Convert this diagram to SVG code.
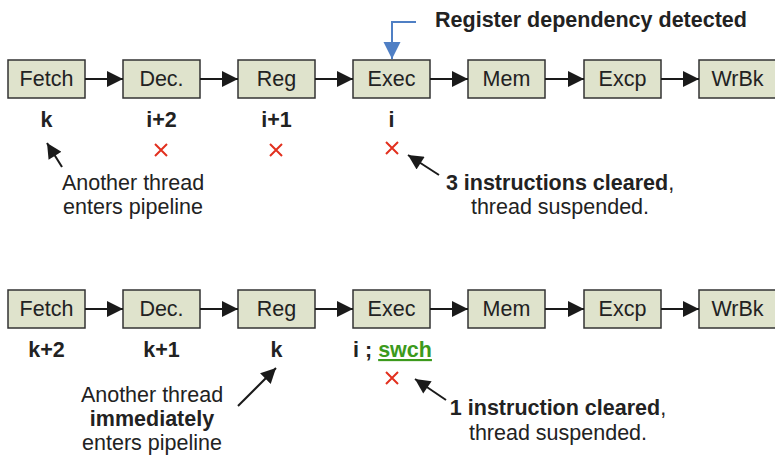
<svg xmlns="http://www.w3.org/2000/svg" width="775" height="455" viewBox="0 0 775 455">
  <defs>
    <marker id="ah" viewBox="0 0 10 10" refX="10" refY="5" markerWidth="18" markerHeight="16" markerUnits="userSpaceOnUse" orient="auto">
      <path d="M0,0 L10,5 L0,10 z" fill="#1a1a1a"/>
    </marker>
    <marker id="ahs" viewBox="0 0 10 10" refX="10" refY="5" markerWidth="16" markerHeight="15" markerUnits="userSpaceOnUse" orient="auto">
      <path d="M0,0 L10,5 L0,10 z" fill="#1a1a1a"/>
    </marker>
    <marker id="ahb" viewBox="0 0 10 10" refX="10" refY="5" markerWidth="17" markerHeight="19" markerUnits="userSpaceOnUse" orient="auto">
      <path d="M0,0 L10,5 L0,10 z" fill="#4f7fc4"/>
    </marker>
  </defs>
  <style>
    .box { fill: #dfe3cc; stroke: #333; stroke-width: 1.5; }
    .lbl { font-family: "Liberation Sans", Arial, sans-serif; font-size: 21.5px; fill: #222; text-anchor: middle; }
    .idx { font-family: "Liberation Sans", Arial, sans-serif; font-size: 21.5px; font-weight: bold; fill: #222; text-anchor: middle; }
    .note { font-family: "Liberation Sans", Arial, sans-serif; font-size: 21.5px; fill: #222; text-anchor: middle; }
    .b { font-weight: bold; }
    .flow { stroke: #1a1a1a; stroke-width: 2; fill: none; marker-end: url(#ah); }
    .ptr { stroke: #1a1a1a; stroke-width: 2; fill: none; marker-end: url(#ahs); }
    .x { stroke: #e2301e; stroke-width: 2; }
    .sw { fill: #3c9a1c; text-decoration: underline; }
  </style>

  <!-- Top pipeline -->
  <g id="top-fetch"><rect class="box" x="8" y="60" width="77" height="38"/><text class="lbl" x="46.5" y="86">Fetch</text></g>
  <g id="top-dec"><rect class="box" x="123" y="60" width="77" height="38"/><text class="lbl" x="161.5" y="86">Dec.</text></g>
  <g id="top-reg"><rect class="box" x="238" y="60" width="77" height="38"/><text class="lbl" x="276.5" y="86">Reg</text></g>
  <g id="top-exec"><rect class="box" x="353" y="60" width="77" height="38"/><text class="lbl" x="391.5" y="86">Exec</text></g>
  <g id="top-mem"><rect class="box" x="468" y="60" width="77" height="38"/><text class="lbl" x="506.5" y="86">Mem</text></g>
  <g id="top-excp"><rect class="box" x="584" y="60" width="77" height="38"/><text class="lbl" x="622.5" y="86">Excp</text></g>
  <g id="top-wrbk"><rect class="box" x="699" y="60" width="77" height="38"/><text class="lbl" x="737.5" y="86">WrBk</text></g>

  <!-- Bottom pipeline -->
  <g id="bot-fetch"><rect class="box" x="8" y="290" width="77" height="38"/><text class="lbl" x="46.5" y="316">Fetch</text></g>
  <g id="bot-dec"><rect class="box" x="123" y="290" width="77" height="38"/><text class="lbl" x="161.5" y="316">Dec.</text></g>
  <g id="bot-reg"><rect class="box" x="238" y="290" width="77" height="38"/><text class="lbl" x="276.5" y="316">Reg</text></g>
  <g id="bot-exec"><rect class="box" x="353" y="290" width="77" height="38"/><text class="lbl" x="391.5" y="316">Exec</text></g>
  <g id="bot-mem"><rect class="box" x="468" y="290" width="77" height="38"/><text class="lbl" x="506.5" y="316">Mem</text></g>
  <g id="bot-excp"><rect class="box" x="584" y="290" width="77" height="38"/><text class="lbl" x="622.5" y="316">Excp</text></g>
  <g id="bot-wrbk"><rect class="box" x="699" y="290" width="77" height="38"/><text class="lbl" x="737.5" y="316">WrBk</text></g>

  <!-- Connectors -->
  <g id="connectors">
    <line class="flow" x1="85" y1="79" x2="123" y2="79"/>
    <line class="flow" x1="200" y1="79" x2="238" y2="79"/>
    <line class="flow" x1="315" y1="79" x2="353" y2="79"/>
    <line class="flow" x1="430" y1="79" x2="468" y2="79"/>
    <line class="flow" x1="545" y1="79" x2="584" y2="79"/>
    <line class="flow" x1="661" y1="79" x2="699" y2="79"/>

    <line class="flow" x1="85" y1="309" x2="123" y2="309"/>
    <line class="flow" x1="200" y1="309" x2="238" y2="309"/>
    <line class="flow" x1="315" y1="309" x2="353" y2="309"/>
    <line class="flow" x1="430" y1="309" x2="468" y2="309"/>
    <line class="flow" x1="545" y1="309" x2="584" y2="309"/>
    <line class="flow" x1="661" y1="309" x2="699" y2="309"/>

    <!-- dependency signal into Exec -->
    <polyline points="416,22 392,22 392,59" fill="none" stroke="#4f7fc4" stroke-width="2" marker-end="url(#ahb)"/>

    <!-- annotation pointers -->
    <line class="ptr" x1="62" y1="167" x2="47" y2="143"/>
    <line class="ptr" x1="439" y1="175" x2="408" y2="155"/>
    <line class="ptr" x1="238" y1="406" x2="276" y2="368"/>
    <line class="ptr" x1="446" y1="400" x2="415" y2="379"/>
  </g>

  <!-- Top row instruction slots -->
  <g id="top-slots">
    <text class="idx" x="46.5" y="127">k</text>
    <text class="idx" x="161.5" y="127">i+2</text>
    <text class="idx" x="276.5" y="127">i+1</text>
    <text class="idx" x="391.5" y="127">i</text>
    <path class="x" d="M155,144 L167,156 M167,144 L155,156"/>
    <path class="x" d="M270,144 L282,156 M282,144 L270,156"/>
    <path class="x" d="M386,142 L398,154 M398,142 L386,154"/>
  </g>

  <text class="idx" x="591" y="27">Register dependency detected</text>

  <g id="top-notes">
    <text class="note" x="133" y="190">Another thread</text>
    <text class="note" x="133" y="214">enters pipeline</text>
    <text class="note" x="560" y="190"><tspan class="b">3 instructions cleared</tspan>,</text>
    <text class="note" x="560" y="214">thread suspended.</text>
  </g>

  <!-- Bottom row instruction slots -->
  <g id="bot-slots">
    <text class="idx" x="46.5" y="357">k+2</text>
    <text class="idx" x="161.5" y="357">k+1</text>
    <text class="idx" x="276.5" y="357">k</text>
    <text class="idx" x="392.5" y="357">i ; <tspan class="sw">swch</tspan></text>
    <path class="x" d="M386,372 L398,384 M398,372 L386,384"/>
  </g>

  <g id="bot-notes">
    <text class="note" x="152" y="402">Another thread</text>
    <text class="note b" x="152" y="426">immediately</text>
    <text class="note" x="152" y="450">enters pipeline</text>
    <text class="note" x="558" y="415"><tspan class="b">1 instruction cleared</tspan>,</text>
    <text class="note" x="558" y="440">thread suspended.</text>
  </g>
</svg>
